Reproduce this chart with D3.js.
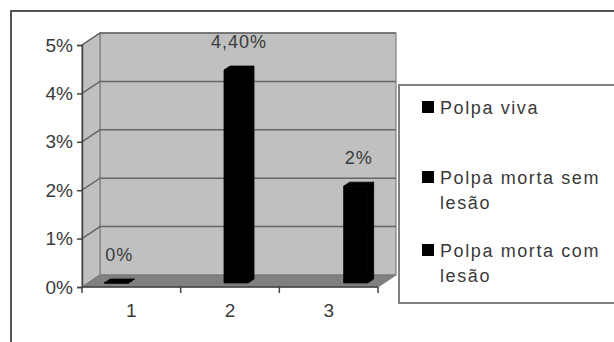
<!DOCTYPE html>
<html>
<head>
<meta charset="utf-8">
<script src="https://cdn.jsdelivr.net/npm/d3@7"></script>
<style>
  html, body { margin: 0; padding: 0; background: #fff; }
  svg { display: block; }
  text { font-family: "Liberation Sans", Arial, sans-serif; fill: #3a3a3a; }
</style>
</head>
<body>
<svg id="chart" width="614" height="342"></svg>
<script>
// Categories on the x axis
const categories = ["1", "2", "3"];
// Series shown in the legend
const seriesNames = ["Polpa viva", "Polpa morta sem lesão", "Polpa morta com lesão"];
// Percent values per series, one entry per category (null = no bar)
const polpaViva = [0, null, null];
const polpaMortaSemLesao = [null, 4.4, null];
const polpaMortaComLesao = [null, null, 2];
// Data labels as printed above the bars
const valueLabels = ["0%", "4,40%", "2%"];
// Value axis ticks
const yTicks = [0, 1, 2, 3, 4, 5];

const seriesValues = [polpaViva, polpaMortaSemLesao, polpaMortaComLesao];

const svg = d3.select("#chart");

// Front plane of the 3D box and its depth offset
const plot = { left: 82, right: 378, top: 45, bottom: 287 };
const depth = { dx: 18, dy: -12 };
const barDepth = [1 / 3, 2 / 3];

const x = d3.scaleBand().domain(categories).range([plot.left, plot.right]).padding(0);
const cw = x.bandwidth();
const xs = d3.scaleBand().domain(seriesNames).range([cw / 2 - 31.5, cw / 2 + 31.5]).padding(0);
const barW = 24;
const y = d3.scaleLinear().domain([0, 5]).range([plot.bottom, plot.top]);

// Outer chart frame
svg.append("rect")
  .attr("x", 11).attr("y", 11).attr("width", 640).attr("height", 360)
  .attr("fill", "none").attr("stroke", "#555").attr("stroke-width", 2);

const pt = (px, py, f) => [px + depth.dx * f, py + depth.dy * f];
const poly = pts => "M" + pts.map(p => p.join(",")).join("L") + "Z";

// Walls and floor
const g3d = svg.append("g");
g3d.append("path")
  .attr("d", poly([pt(plot.left, y(5), 1), pt(plot.right, y(5), 1), pt(plot.right, y(0), 1), pt(plot.left, y(0), 1)]))
  .attr("fill", "#c0c0c0").attr("stroke", "#808080").attr("stroke-width", 1.2);
g3d.append("path")
  .attr("d", poly([[plot.left, y(5)], pt(plot.left, y(5), 1), pt(plot.left, y(0), 1), [plot.left, y(0)]]))
  .attr("fill", "#c0c0c0").attr("stroke", "#808080").attr("stroke-width", 1.2);

// Gridlines across the side and back walls
g3d.selectAll(".grid").data(yTicks.filter(t => t > 0)).join("path")
  .attr("class", "grid")
  .attr("d", t => "M" + [plot.left, y(t)].join(",") + "L" + pt(plot.left, y(t), 1).join(",") + "L" + pt(plot.right, y(t), 1).join(","))
  .attr("fill", "none").attr("stroke", "#666").attr("stroke-width", 1.5);

g3d.append("path")
  .attr("d", poly([[plot.left, y(0)], [plot.right, y(0)], pt(plot.right, y(0), 1), pt(plot.left, y(0), 1)]))
  .attr("fill", "#808080").attr("stroke", "#777").attr("stroke-width", 1);

// 3D bars: front, top and right side faces
const bars = [];
seriesValues.forEach((vals, si) => {
  vals.forEach((v, ci) => {
    if (v === null) return;
    bars.push({ series: seriesNames[si], cat: categories[ci], value: v, label: valueLabels[ci] });
  });
});

const barG = svg.append("g").selectAll("g").data(bars).join("g");
function barGeom(d) {
  const cx = x(d.cat) + xs(d.series) + xs.bandwidth() / 2;
  const x0 = cx - barW / 2, x1 = cx + barW / 2;
  const f0 = barDepth[0], f1 = barDepth[1];
  return {
    front: [pt(x0, y(d.value), f0), pt(x1, y(d.value), f0), pt(x1, y(0), f0), pt(x0, y(0), f0)],
    top: [pt(x0, y(d.value), f0), pt(x0, y(d.value), f1), pt(x1, y(d.value), f1), pt(x1, y(d.value), f0)],
    side: [pt(x1, y(d.value), f0), pt(x1, y(d.value), f1), pt(x1, y(0), f1), pt(x1, y(0), f0)],
    cx: cx + depth.dx * (f0 + f1) / 2,
    topY: y(d.value) + depth.dy * (f0 + f1) / 2
  };
}
barG.append("path").attr("d", d => poly(barGeom(d).side)).attr("fill", "#000").attr("stroke", "#000").attr("stroke-width", 0.8);
barG.append("path").attr("d", d => poly(barGeom(d).top)).attr("fill", "#000").attr("stroke", "#000").attr("stroke-width", 0.8);
barG.append("path").attr("d", d => poly(barGeom(d).front)).attr("fill", "#000").attr("stroke", "#000").attr("stroke-width", 0.8);

// Data labels
barG.append("text")
  .attr("x", d => barGeom(d).cx)
  .attr("y", d => barGeom(d).topY - 20)
  .attr("text-anchor", "middle")
  .attr("font-size", 18)
  .attr("letter-spacing", 1)
  .text(d => d.label);

// Value axis
const yAxis = svg.append("g")
  .attr("transform", `translate(${plot.left},0)`)
  .call(d3.axisLeft(y).tickValues(yTicks).tickFormat(d => d + "%").tickSize(5).tickPadding(4));
yAxis.select(".domain").attr("stroke", "#444").attr("stroke-width", 1.5);
yAxis.selectAll(".tick line").attr("stroke", "#444").attr("stroke-width", 1.5);
yAxis.selectAll("text").attr("font-size", 19).attr("fill", "#3a3a3a").attr("font-family", '"Liberation Sans", Arial, sans-serif');

// Category axis: ticks between categories, labels centered
const xAxis = svg.append("g").attr("transform", `translate(0,${plot.bottom})`);
xAxis.append("line").attr("x1", plot.left).attr("x2", plot.right).attr("stroke", "#444").attr("stroke-width", 1.5);
const bounds = categories.map(c => x(c)).concat([x(categories[categories.length - 1]) + cw]);
xAxis.selectAll(".tk").data(bounds).join("line")
  .attr("class", "tk").attr("x1", d => d).attr("x2", d => d).attr("y1", 0).attr("y2", 6)
  .attr("stroke", "#444").attr("stroke-width", 1.5);
xAxis.selectAll(".lbl").data(categories).join("text")
  .attr("class", "lbl")
  .attr("x", d => x(d) + cw / 2).attr("y", 30)
  .attr("text-anchor", "middle").attr("font-size", 19)
  .text(d => d);

// Legend
const legend = svg.append("g");
legend.append("rect")
  .attr("x", 399).attr("y", 85).attr("width", 240).attr("height", 218)
  .attr("fill", "#fff").attr("stroke", "#808080").attr("stroke-width", 2);

const legendTop = [107, 177, 250];
const lineH = 25;
const items = legend.selectAll(".item").data(seriesNames).join("g").attr("class", "item");
items.append("rect")
  .attr("x", 422).attr("y", (d, i) => legendTop[i] - 6).attr("width", 12).attr("height", 12)
  .attr("fill", "#000");
items.append("text")
  .attr("x", 440).attr("y", (d, i) => legendTop[i] + 7)
  .attr("font-size", 18).attr("letter-spacing", 1.6)
  .each(function (d) {
    const t = d3.select(this);
    const words = d.split(" ");
    let line = [];
    let tspan = t.append("tspan").attr("x", 440).attr("dy", 0);
    words.forEach(w => {
      line.push(w);
      tspan.text(line.join(" "));
      if (tspan.node().getComputedTextLength() > 170 && line.length > 1) {
        line.pop();
        tspan.text(line.join(" "));
        line = [w];
        tspan = t.append("tspan").attr("x", 440).attr("dy", lineH).text(w);
      }
    });
  });
</script>
</body>
</html>
